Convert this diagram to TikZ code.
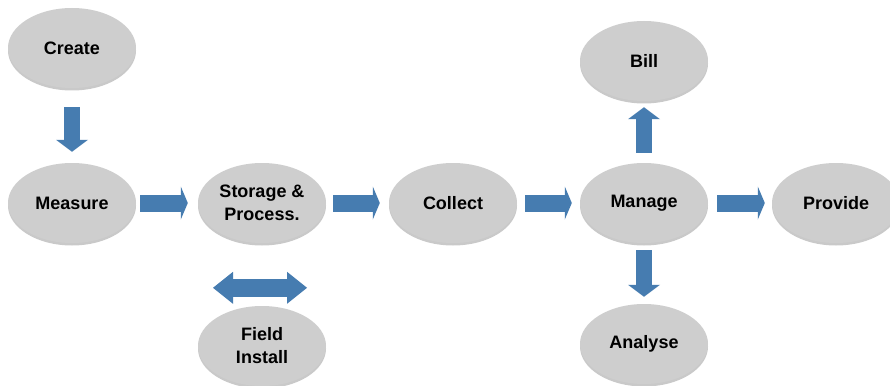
\documentclass[tikz,border=0pt]{standalone}
\usepackage{fontspec}
\setmainfont{Liberation Sans}
\usetikzlibrary{arrows.meta,shadows,shapes.geometric}
\definecolor{ellgray}{HTML}{CECECE}
\definecolor{arrowblue}{HTML}{467CB0}
\tikzset{
  oval/.style={ellipse, minimum width=128pt, minimum height=80pt, inner sep=0pt,
    fill=ellgray, draw=none, align=center,
    font=\fontsize{18}{23}\selectfont\bfseries,
    drop shadow={shadow xshift=0pt, shadow yshift=-2.5pt, opacity=0.35, fill=black!60}},
  harrow/.style={draw=arrowblue, line width=17pt,
    -{Triangle[width=33pt,length=7pt,line width=0pt]}},
  varrow/.style={draw=arrowblue, line width=16pt,
    -{Triangle[width=32pt,length=12pt,line width=0pt]}},
  darrow/.style={draw=arrowblue, line width=18pt,
    {Triangle[width=32pt,length=20pt,line width=0pt]}-{Triangle[width=32pt,length=20pt,line width=0pt]}}
}
\begin{document}
\begin{tikzpicture}[x=1pt,y=-1pt]
\useasboundingbox (0,0) rectangle (890,385);
\fill[white] (0,0) rectangle (890,385);
\node[oval] (create)  at (72,48)   {Create};
\node[oval] (measure) at (72,203)  {Measure};
\node[oval] (storage) at (262,203) {Storage \&\\Process.};
\node[oval] (field)   at (262,346) {Field\\Install};
\node[oval] (collect) at (453,203) {Collect};
\node[oval] (manage)  at (644,203) {Manage};
\node[oval] (bill)    at (644,61)  {Bill};
\node[oval] (analyse) at (644,344) {Analyse};
\node[oval] (provide) at (836,203) {Provide};

\draw[varrow, shorten <=19pt, shorten >=11pt] (create.south) -- (measure.north);
\draw[harrow, shorten <=4pt, shorten >=10pt] (measure.east) -- (storage.west);
\draw[harrow, shorten <=7pt, shorten >=9pt] (storage.east) -- (collect.west);
\draw[harrow, shorten <=8pt, shorten >=8pt] (collect.east) -- (manage.west);
\draw[harrow, shorten <=9pt, shorten >=7pt] (manage.east) -- (provide.west);
\draw[varrow, shorten <=10pt, shorten >=6pt] (manage.north) -- (bill.south);
\draw[varrow, shorten <=7pt, shorten >=7pt] (manage.south) -- (analyse.north);
\coordinate (dl) at ([xshift=-49pt,yshift=18pt]field.north);
\coordinate (dr) at ([xshift=45pt,yshift=18pt]field.north);
\draw[darrow] (dl) -- (dr);
\end{tikzpicture}
\end{document}
